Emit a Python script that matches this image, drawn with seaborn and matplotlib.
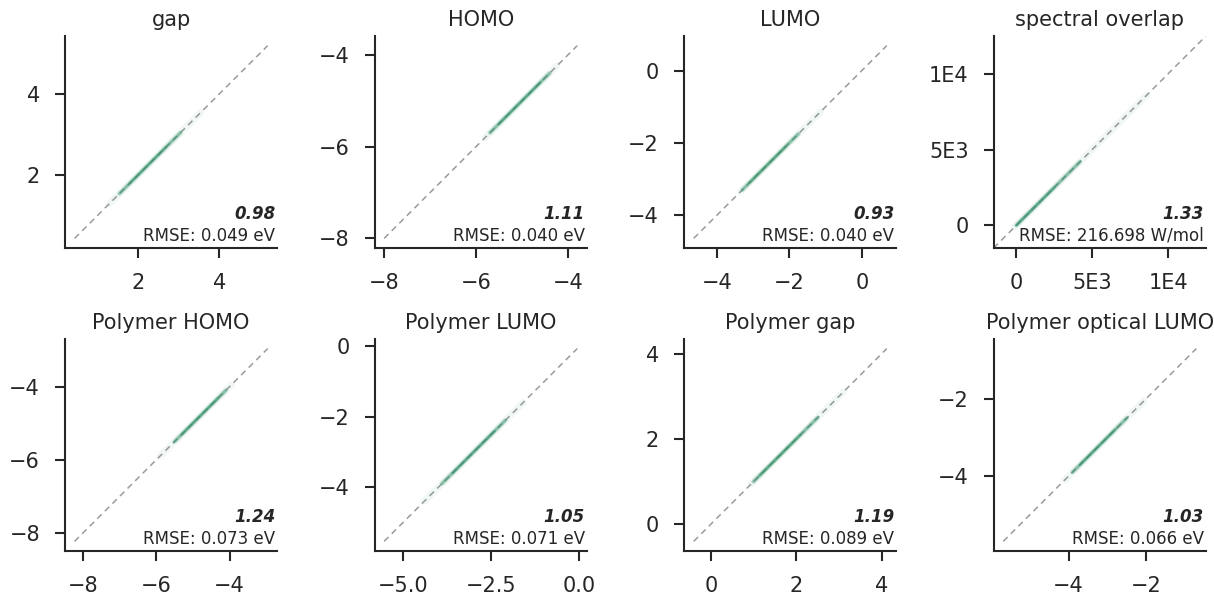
import matplotlib
matplotlib.use("Agg")
import matplotlib.pyplot as plt
import matplotlib.ticker as mticker
import seaborn as sns
import pandas as pd

# ---- data ----
titles = ["gap", "HOMO", "LUMO", "spectral overlap",
          "Polymer HOMO", "Polymer LUMO", "Polymer gap", "Polymer optical LUMO"]
scores = ["0.98", "1.11", "0.93", "1.33", "1.24", "1.05", "1.19", "1.03"]
rmse_labels = ["RMSE: 0.049 eV", "RMSE: 0.040 eV", "RMSE: 0.040 eV", "RMSE: 216.698 W/mol",
               "RMSE: 0.073 eV", "RMSE: 0.071 eV", "RMSE: 0.089 eV", "RMSE: 0.066 eV"]
# parity (y = x) line extent
line_lo = [0.45, -8.00, -4.64, -1500, -8.22, -5.54, -0.40, -5.69]
line_hi = [5.19, -3.80, 0.69, 12500, -2.96, -0.06, 4.12, -0.70]
# extent of the faint outer part of the point cloud
cloud_lo = [1.30, -5.80, -3.35, -100, -5.90, -4.40, 0.95, -4.10]
cloud_hi = [3.55, -4.24, -1.14, 8600, -3.95, -1.60, 3.10, -2.05]
# extent of the dense core of the point cloud
core_lo = [1.55, -5.70, -3.30, 0, -5.50, -3.90, 1.00, -3.90]
core_hi = [3.05, -4.40, -1.75, 4200, -4.10, -2.10, 2.50, -2.50]
# densest part
dense_lo = [1.80, -5.50, -3.10, 0, -5.30, -3.60, 1.15, -3.70]
dense_hi = [2.70, -4.60, -2.10, 2500, -4.30, -2.40, 2.10, -2.80]

xticks = [[2, 4], [-8, -6, -4], [-4, -2, 0], [0, 5000, 10000],
          [-8, -6, -4], [-5.0, -2.5, 0.0], [0, 2, 4], [-4, -2]]
yticks = [[2, 4], [-8, -6, -4], [-4, -2, 0], [0, 5000, 10000],
          [-8, -6, -4], [-4, -2, 0], [0, 2, 4], [-4, -2]]
sci_labels = {0: "0", 5000: "5E3", 10000: "1E4"}

sns.set_theme(style="ticks")
plt.rcParams["font.family"] = ["DejaVu Sans"]
plt.rcParams.update({
    "axes.edgecolor": "#262626",
    "axes.linewidth": 1.5,
    "xtick.major.size": 7,
    "ytick.major.size": 7,
    "xtick.major.width": 1.5,
    "ytick.major.width": 1.5,
    "xtick.major.pad": 11,
    "ytick.major.pad": 11,
    "xtick.labelsize": 15,
    "ytick.labelsize": 15,
    "xtick.color": "#262626",
    "ytick.color": "#262626",
    "text.color": "#262626",
})

green = "#3a9670"

fig, axes = plt.subplots(2, 4, figsize=(12.14, 5.97), dpi=100)
fig.subplots_adjust(left=0.0535, right=0.9934, bottom=0.0771, top=0.9397,
                    wspace=0.4575, hspace=0.429)

for i, ax in enumerate(axes.flat):
    line_df = pd.DataFrame({"x": [line_lo[i], line_hi[i]], "y": [line_lo[i], line_hi[i]]})
    sns.lineplot(data=line_df, x="x", y="y", ax=ax, color="#9a9a9a",
                 linewidth=1.1, linestyle=(0, (4, 3)), zorder=1)
    layers = [(cloud_lo, cloud_hi, 5.0, 0.07),
              (core_lo, core_hi, 3.2, 0.25),
              (core_lo, core_hi, 1.8, 0.45),
              (dense_lo, dense_hi, 1.8, 0.55)]
    for lo, hi, lw, a in layers:
        df = pd.DataFrame({"x": [lo[i], hi[i]], "y": [lo[i], hi[i]]})
        sns.lineplot(data=df, x="x", y="y", ax=ax, color=green, linewidth=lw,
                     alpha=a, solid_capstyle="round", zorder=2)
    if i == 3:
        ax.margins(0)
    ax.set_xticks(xticks[i])
    ax.set_yticks(yticks[i])
    if i == 3:
        fmt = mticker.FuncFormatter(lambda v, p: sci_labels.get(int(round(v)), ""))
        ax.xaxis.set_major_formatter(fmt)
        ax.yaxis.set_major_formatter(fmt)
    ax.set_xlabel("")
    ax.set_ylabel("")
    ax.set_title(titles[i], fontsize=15, pad=7)
    ax.text(0.99, 0.135, scores[i], transform=ax.transAxes, ha="right", va="baseline",
            fontsize=12, fontweight="bold", fontstyle="italic")
    ax.text(0.99, 0.035, rmse_labels[i], transform=ax.transAxes, ha="right", va="baseline",
            fontsize=12)
    sns.despine(ax=ax)

fig.savefig("out.png", dpi=100)
